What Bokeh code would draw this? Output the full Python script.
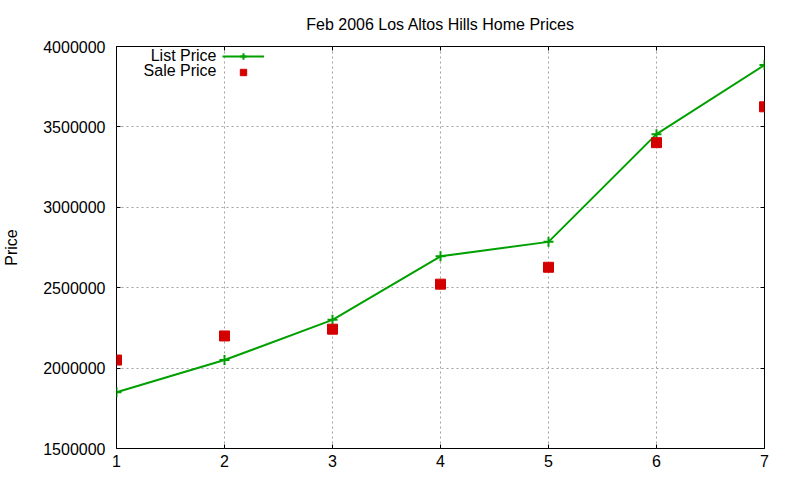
from bokeh.core.properties import value
from bokeh.embed import file_html
from bokeh.models import (
    BasicTickFormatter,
    ColumnDataSource,
    FixedTicker,
    Label,
    Legend,
    LegendItem,
    LinearAxis,
    Range1d,
)
from bokeh.plotting import figure
from bokeh.resources import INLINE

# data
months = [1, 2, 3, 4, 5, 6, 7]
list_price = [1850000, 2050000, 2300000, 2695000, 2785000, 3455000, 3885000]
sale_price = [2050000, 2200000, 2242000, 2522000, 2627000, 3402000, 3625000]
y_ticks = [1500000, 2000000, 2500000, 3000000, 3500000, 4000000]
x_ticks = [1, 2, 3, 4, 5, 6, 7]
series_names = ["List Price", "Sale Price"]

FONT = "Liberation Sans"
GREEN = "#00a000"
RED = "#d40000"

source = ColumnDataSource(dict(month=months, list_price=list_price, sale_price=sale_price))

p = figure(
    frame_width=648,
    frame_height=402,
    x_range=Range1d(1, 7),
    y_range=Range1d(1500000, 4000000),
    title="Feb 2006 Los Altos Hills Home Prices",
    output_backend="svg",
    toolbar_location=None,
    min_border_left=111,
    min_border_right=25,
    min_border_top=46,
    min_border_bottom=16,
)
p.title.align = "center"
p.title.standoff = 27
p.title.text_font = FONT
p.title.text_font_size = "16px"
p.title.text_font_style = "normal"
p.title.text_color = "black"

p.outline_line_color = "black"
p.outline_line_width = 1

p.xaxis.ticker = FixedTicker(ticks=x_ticks)
p.yaxis.ticker = FixedTicker(ticks=y_ticks)
p.yaxis.formatter = BasicTickFormatter(use_scientific=False)
p.yaxis.axis_label = "Price"
p.yaxis.axis_label_standoff = 20
p.yaxis.axis_label_text_font = FONT
p.yaxis.axis_label_text_font_size = "16px"
p.yaxis.axis_label_text_font_style = "normal"
p.yaxis.axis_label_text_color = "black"
p.yaxis.major_label_standoff = 11
p.xaxis.major_label_standoff = 6
for ax in (p.xaxis, p.yaxis):
    ax.axis_line_color = None
    ax.major_tick_in = 4
    ax.major_tick_out = 0
    ax.major_tick_line_color = "black"
    ax.minor_tick_line_color = None
    ax.major_label_text_font = FONT
    ax.major_label_text_font_size = "16px"
    ax.major_label_text_color = "black"

# mirrored ticks on the right and top, as gnuplot draws them
right = LinearAxis(ticker=FixedTicker(ticks=y_ticks))
top = LinearAxis(ticker=FixedTicker(ticks=x_ticks))
for ax in (right, top):
    ax.axis_line_color = None
    ax.major_tick_in = 4
    ax.major_tick_out = 0
    ax.major_tick_line_color = "black"
    ax.minor_tick_line_color = None
    ax.major_label_text_color = None
    ax.major_label_text_font_size = "0px"
    ax.major_label_standoff = 0
p.add_layout(right, "right")
p.add_layout(top, "above")

p.xgrid.ticker = FixedTicker(ticks=x_ticks[1:-1])
p.ygrid.ticker = FixedTicker(ticks=y_ticks[1:-1])
for g in (p.xgrid, p.ygrid):
    g.grid_line_color = "#a0a0a0"
    g.grid_line_dash = "2 3"
    g.grid_line_width = 1

line = p.line("month", "list_price", source=source, line_color=GREEN, line_width=2)
cross = p.scatter(
    "month", "list_price", source=source, marker="cross", size=10,
    line_color=GREEN, line_width=2,
)
squares = p.scatter(
    "month", "sale_price", source=source, marker="square", size=10,
    fill_color=RED, line_color=RED,
)

# gnuplot puts the key text left of the sample: draw samples through the
# legend (labels hidden) and the names as right-aligned labels
legend = Legend(
    items=[
        LegendItem(label=value(series_names[0]), renderers=[line, cross]),
        LegendItem(label=value(series_names[1]), renderers=[squares]),
    ],
    location=(106, 368),
    glyph_width=42,
    glyph_height=16,
    label_height=16,
    label_standoff=0,
    label_text_color=None,
    spacing=0,
    padding=0,
    margin=0,
    border_line_color=None,
    background_fill_alpha=0,
)
p.add_layout(legend)

for text, y in zip(series_names, (393, 378)):
    p.add_layout(
        Label(
            x=100, y=y, x_units="screen", y_units="screen", text=text,
            text_align="right", text_baseline="middle",
            text_font=FONT, text_font_size="16px", text_color="black",
        )
    )

open("out.html", "w").write(file_html(p, INLINE))
